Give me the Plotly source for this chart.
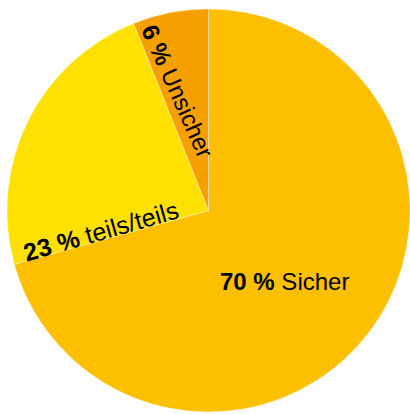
import plotly.graph_objects as go

labels = ["Sicher", "teils/teils", "Unsicher"]
values = [70, 23, 6]
colors = ["#FCC000", "#FEE100", "#F6A000"]

# label placement (paper coords), angles and sizes
label_pos = [(284, 281, 0, 24), (101, 231, -16, 25), (177, 91, 66, 24)]

W, H = 410, 414

fig = go.Figure(go.Pie(
    labels=labels, values=values, sort=False, direction="clockwise", rotation=0,
    marker=dict(colors=colors, line=dict(color="rgba(255,255,255,0.6)", width=0.6)),
    textinfo="none", hoverinfo="label+value", showlegend=False,
    domain=dict(x=[7 / W, 1], y=[1 - 413 / H, 1 - 8 / H]),
))

for lab, val, (px, py, ang, fs) in zip(labels, values, label_pos):
    fig.add_annotation(
        x=px / W, y=1 - py / H, xref="paper", yref="paper",
        text=f"<b>{val} %</b> {lab}", showarrow=False, textangle=ang,
        font=dict(family="Liberation Sans, Arial", size=fs, color="#000000"),
        xanchor="center", yanchor="middle",
    )

fig.update_layout(
    width=W, height=H, margin=dict(l=0, r=0, t=0, b=0),
    paper_bgcolor="white", plot_bgcolor="white",
)
fig.write_html("out.html", config={"displayModeBar": False},
               post_script="document.body.style.margin='0';document.body.style.overflow='hidden';")
